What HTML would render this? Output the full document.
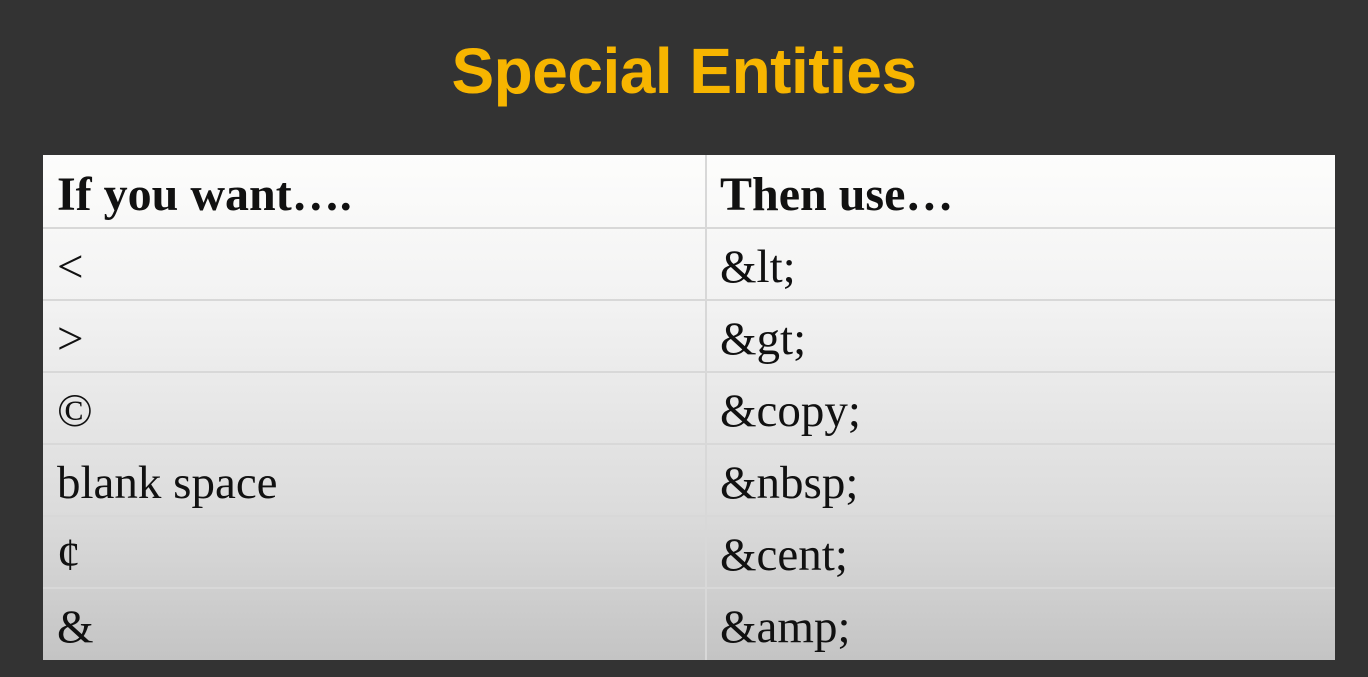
<!DOCTYPE html>
<html><head><meta charset="utf-8"><style>
html,body{margin:0;padding:0;}
body{width:1368px;height:677px;background:#333;position:relative;overflow:hidden;font-family:"Liberation Serif",serif;}
h1{position:absolute;left:0;top:31px;width:1368px;text-align:center;margin:0;font-family:"Liberation Sans",sans-serif;font-weight:bold;font-size:64px;color:#f7b500;letter-spacing:-0.5px;line-height:80px;}
.tbl{position:absolute;left:43px;top:155px;width:1292px;height:505px;background:linear-gradient(#fdfdfc,#f2f2f2 30%,#dcdcdc 70%,#c4c4c4);}
.row{position:absolute;left:0;width:1292px;border-top:2px solid #d8d8d8;box-sizing:border-box;}
.c{position:absolute;top:0;font-size:47px;color:#111;white-space:nowrap;line-height:54px;}
.c1{left:14px}.c2{left:677px}
.hd .c{font-weight:bold;font-size:48px;}
.vline{position:absolute;left:662px;top:0;width:2px;height:505px;background:#d8d8d8;}
</style></head><body>
<h1>Special Entities</h1>
<div class="tbl">
<div class="vline"></div>
<div class="row hd" style="top:0;height:73px;border-top:none"><div class="c c1" style="top:13px">If you want….</div><div class="c c2" style="top:13px">Then use…</div></div>
<div class="row" style="top:72px;height:72px"><div class="c c1" style="top:11px">&lt;</div><div class="c c2" style="top:11px">&amp;lt;</div></div>
<div class="row" style="top:144px;height:72px"><div class="c c1" style="top:11px">&gt;</div><div class="c c2" style="top:11px">&amp;gt;</div></div>
<div class="row" style="top:216px;height:72px"><div class="c c1" style="top:11px">©</div><div class="c c2" style="top:11px">&amp;copy;</div></div>
<div class="row" style="top:288px;height:72px"><div class="c c1" style="top:11px">blank space</div><div class="c c2" style="top:11px">&amp;nbsp;</div></div>
<div class="row" style="top:360px;height:72px"><div class="c c1" style="top:11px">¢</div><div class="c c2" style="top:11px">&amp;cent;</div></div>
<div class="row" style="top:432px;height:73px"><div class="c c1" style="top:11px">&amp;</div><div class="c c2" style="top:11px">&amp;amp;</div></div>
</div>
</body></html>
